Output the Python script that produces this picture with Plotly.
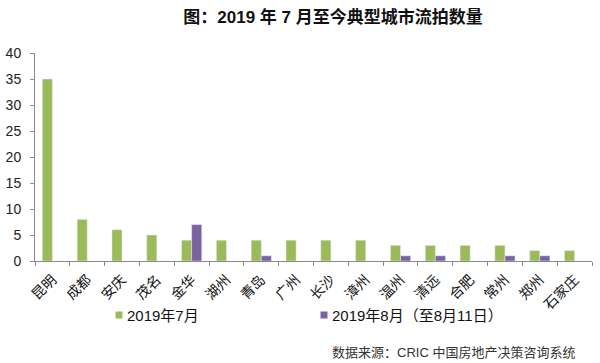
import plotly.graph_objects as go

cities = ["昆明", "成都", "安庆", "茂名", "金华", "湖州", "青岛", "广州", "长沙",
          "漳州", "温州", "清远", "合肥", "常州", "郑州", "石家庄"]
july = [35, 8, 6, 5, 4, 4, 4, 4, 4, 4, 3, 3, 3, 3, 2, 2]
august = [None, None, None, None, 7, None, 1, None, None, None, 1, 1, None, 1, 1, None]
y_ticks = [0, 5, 10, 15, 20, 25, 30, 35, 40]
series_names = ["2019年7月", "2019年8月（至8月11日）"]
series_colors = ["#9BBB59", "#7B62A0"]

FONT = "Liberation Sans, Arial, Noto Sans CJK SC, sans-serif"
L, R, T, B = 35, 8, 53, 102
PW, PH = 600 - L - R, 363 - T - B


def px_x(x):
    return (x - L) / PW


def px_y(y):
    return (363 - B - y) / PH


fig = go.Figure()
fig.add_trace(go.Bar(x=cities, y=july, name=series_names[0], marker_color=series_colors[0]))
fig.add_trace(go.Bar(x=cities, y=august, name=series_names[1], marker_color=series_colors[1]))

annotations = [dict(text="数据来源：CRIC 中国房地产决策咨询系统", xref="paper", yref="paper",
                    x=px_x(577), y=px_y(352), xanchor="right", yanchor="middle",
                    showarrow=False, font=dict(size=13, color="#333"))]
shapes = []
for name, color, mx in zip(series_names, series_colors, [119, 324]):
    shapes.append(dict(type="rect", xref="paper", yref="paper",
                       x0=px_x(mx - 3.5), x1=px_x(mx + 3.5),
                       y0=px_y(315 + 3.5), y1=px_y(315 - 3.5),
                       fillcolor=color, line=dict(width=0)))
    annotations.append(dict(text=name, xref="paper", yref="paper",
                            x=px_x(mx + 6), y=px_y(315), xanchor="left", yanchor="middle",
                            showarrow=False, font=dict(size=15, color="#111")))

fig.update_layout(
    width=600, height=363,
    margin=dict(l=L, r=R, t=T, b=B),
    paper_bgcolor="white", plot_bgcolor="white",
    barmode="group", bargap=0.42, bargroupgap=0,
    font=dict(family=FONT, color="#222", size=13),
    title=dict(text="<b>图：2019 年 7 月至今典型城市流拍数量</b>",
               x=333 / 600, xanchor="center", y=1 - 17 / 363, yanchor="middle",
               font=dict(size=17, color="#111", family=FONT)),
    showlegend=False,
    xaxis=dict(type="category", showline=True, linecolor="#8a8a8a", linewidth=1,
               ticks="outside", tickson="boundaries", ticklen=4, tickcolor="#8a8a8a",
               tickangle=-45, tickfont=dict(size=14, color="#111"), showgrid=False,
               ticklabelstandoff=4, automargin=False),
    yaxis=dict(range=[0, 40], tickvals=y_ticks, showline=True, linecolor="#8a8a8a",
               linewidth=1, ticks="outside", ticklen=4, tickcolor="#8a8a8a",
               showgrid=False, zeroline=False, tickfont=dict(size=14, color="#222"),
               ticklabelstandoff=6, automargin=False),
    annotations=annotations,
    shapes=shapes,
)

fig.write_html("out.html", config={"displayModeBar": False},
               post_script="document.body.style.margin='0';")
